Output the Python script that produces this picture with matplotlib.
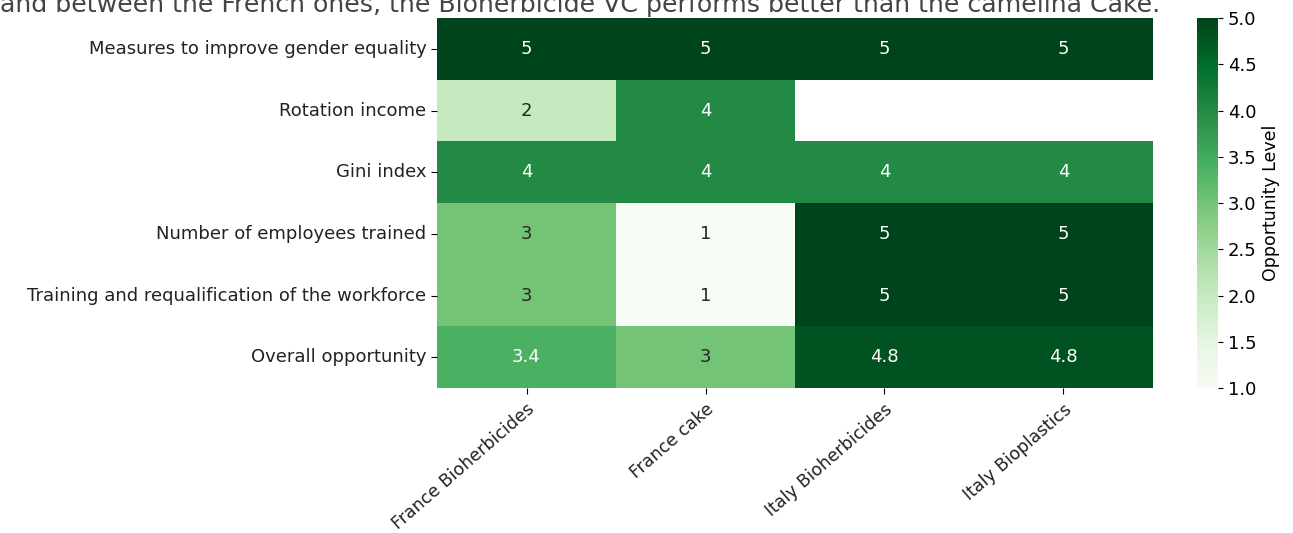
import numpy as np
import pandas as pd
import matplotlib
matplotlib.use("Agg")
import matplotlib.pyplot as plt
import seaborn as sns

indicators = [
    "Measures to improve gender equality",
    "Rotation income",
    "Gini index",
    "Number of employees trained",
    "Training and requalification of the workforce",
    "Overall opportunity",
]
chains = ["France Bioherbicides", "France cake", "Italy Bioherbicides", "Italy Bioplastics"]

gender_equality = [5, 5, 5, 5]
rotation_income = [2, 4, np.nan, np.nan]
gini_index = [4, 4, 4, 4]
employees_trained = [3, 1, 5, 5]
workforce_training = [3, 1, 5, 5]
overall = [3.4, 3, 4.8, 4.8]

df = pd.DataFrame(
    [gender_equality, rotation_income, gini_index,
     employees_trained, workforce_training, overall],
    index=indicators, columns=chains,
)

fs = 13
fig = plt.figure(figsize=(12.93, 5.33), dpi=100)
ax = fig.add_axes([0.338, 0.272, 0.5537, 0.694])
cax = fig.add_axes([0.9257, 0.272, 0.0162, 0.694])

sns.heatmap(df, ax=ax, cbar_ax=cax, cmap="Greens", vmin=1, vmax=5,
            annot=True, fmt="g", annot_kws={"fontsize": fs},
            cbar_kws={"label": "Opportunity Level"})

ax.set_xticklabels(chains, rotation=41, ha="right", fontsize=12.5,
                   rotation_mode="anchor", color="#222222")
ax.set_yticklabels(indicators, rotation=0, fontsize=fs, color="#222222")
ax.tick_params(length=4)
ax.tick_params(axis="x", pad=5)
cax.tick_params(labelsize=fs)
cax.set_ylabel("Opportunity Level", fontsize=fs - 0.5)
ticks = [1.0, 1.5, 2.0, 2.5, 3.0, 3.5, 4.0, 4.5, 5.0]
cax.set_yticks(ticks)
cax.set_yticklabels([f"{v:.1f}" for v in ticks])

# sentence running in from the text above the figure
fig.text(0.0, 1 - 12 / 533,
         "and between the French ones, the Bioherbicide VC performs better than the camelina Cake.",
         fontsize=18.2, color="#444444", va="baseline", ha="left")

fig.savefig("out.png", dpi=100)
